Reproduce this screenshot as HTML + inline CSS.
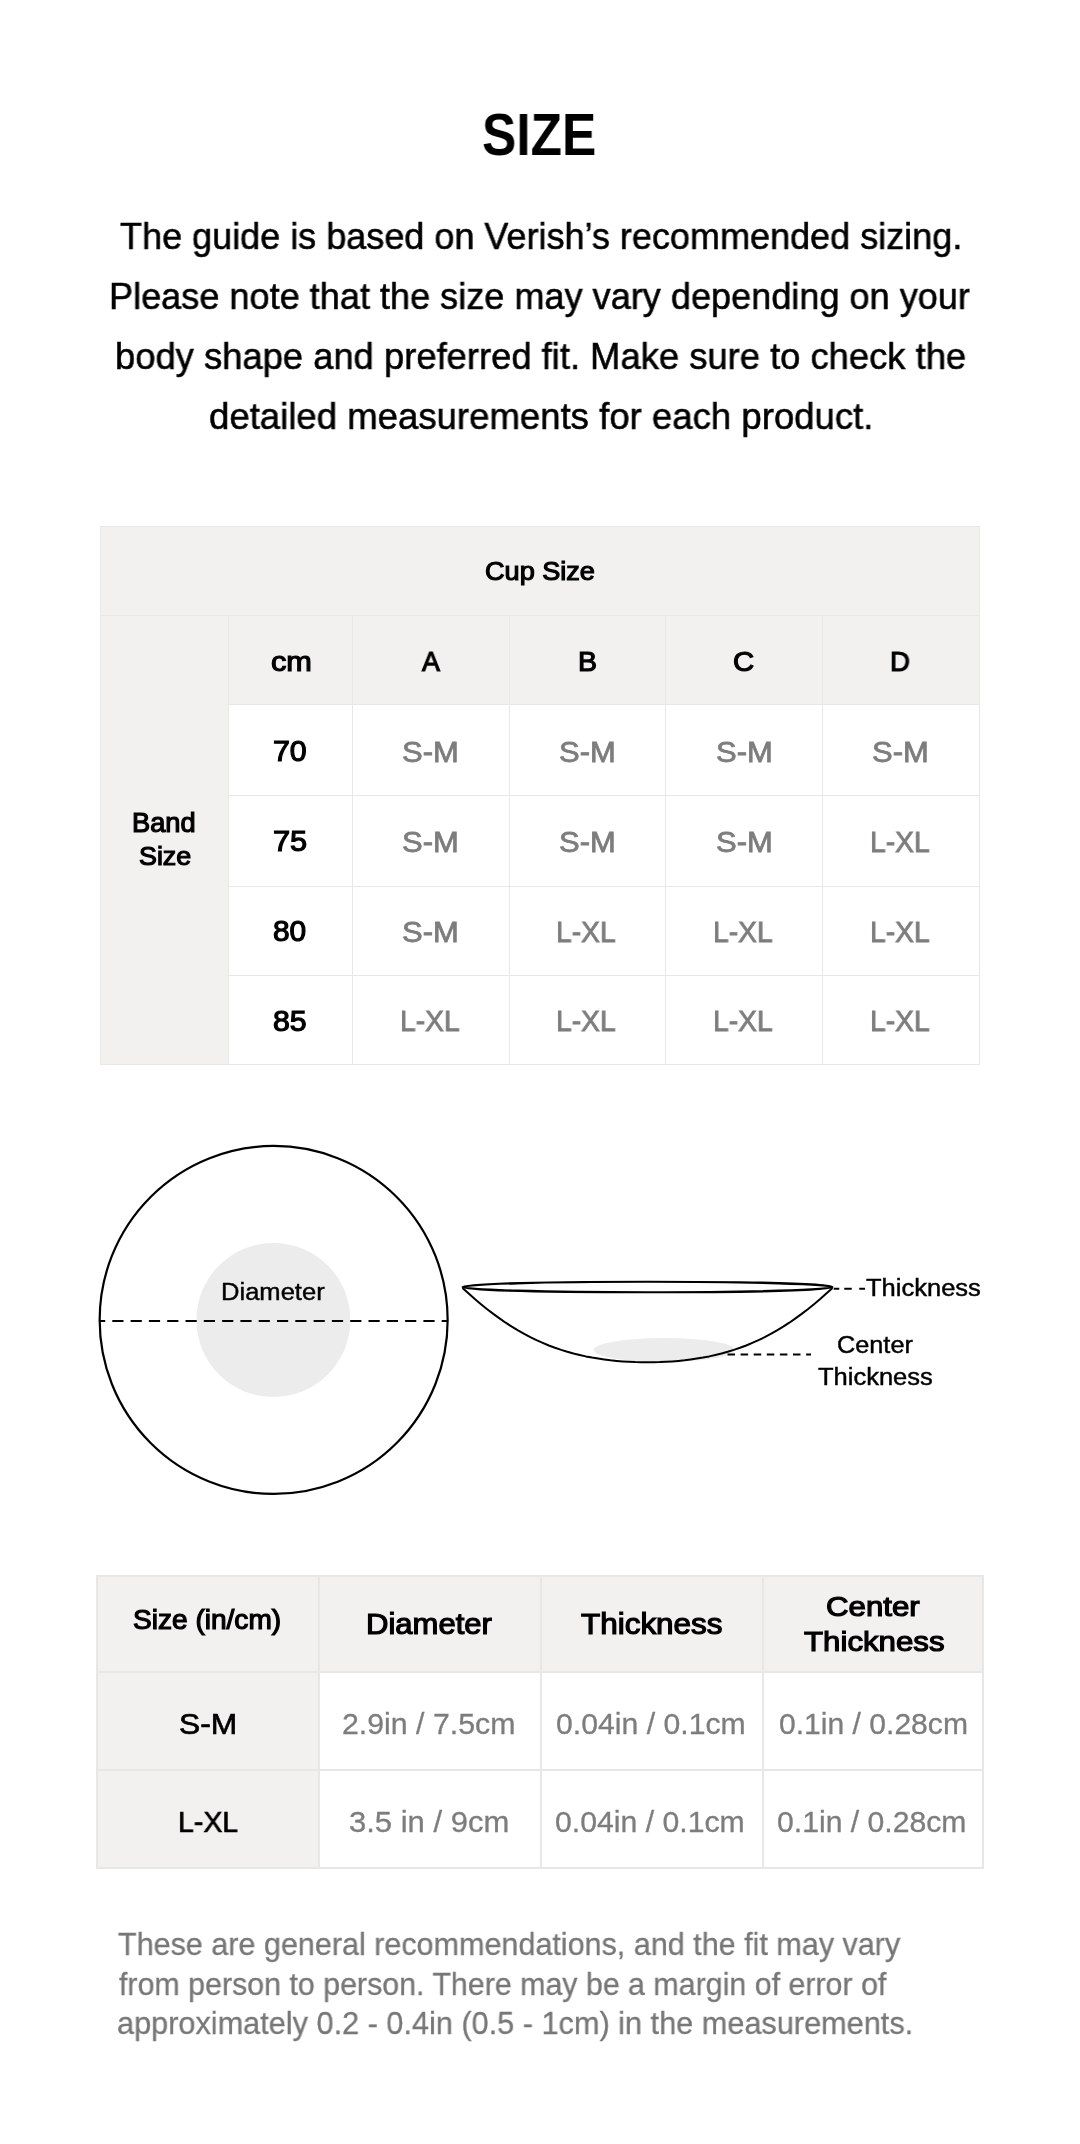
<!DOCTYPE html>
<html><head><meta charset="utf-8"><title>Size guide</title>
<style>
html,body{margin:0;padding:0;background:#fff;}
body{width:1080px;height:2144px;position:relative;overflow:hidden;font-family:"Liberation Sans",sans-serif;color:#000;}
.b{position:absolute;}
.t{position:absolute;white-space:pre;transform-origin:0 0;will-change:transform;}
</style></head><body>
<div class="b" style="left:100px;top:526px;width:880px;height:178px;background:#f2f1f0"></div>
<div class="b" style="left:100px;top:526px;width:128px;height:539px;background:#f2f1f0"></div>
<div class="b" style="left:100px;top:526px;width:880px;height:1px;background:#e8e8e7"></div>
<div class="b" style="left:100px;top:615px;width:880px;height:1px;background:#e8e8e7"></div>
<div class="b" style="left:228px;top:704px;width:752px;height:1px;background:#e8e8e7"></div>
<div class="b" style="left:228px;top:795px;width:752px;height:1px;background:#e8e8e7"></div>
<div class="b" style="left:228px;top:886px;width:752px;height:1px;background:#e8e8e7"></div>
<div class="b" style="left:228px;top:975px;width:752px;height:1px;background:#e8e8e7"></div>
<div class="b" style="left:100px;top:1064px;width:880px;height:1px;background:#e8e8e7"></div>
<div class="b" style="left:100px;top:526px;width:1px;height:539px;background:#e8e8e7"></div>
<div class="b" style="left:979px;top:526px;width:1px;height:539px;background:#e8e8e7"></div>
<div class="b" style="left:228px;top:615px;width:1px;height:450px;background:#e8e8e7"></div>
<div class="b" style="left:352px;top:615px;width:1px;height:450px;background:#e8e8e7"></div>
<div class="b" style="left:509px;top:615px;width:1px;height:450px;background:#e8e8e7"></div>
<div class="b" style="left:665px;top:615px;width:1px;height:450px;background:#e8e8e7"></div>
<div class="b" style="left:822px;top:615px;width:1px;height:450px;background:#e8e8e7"></div>
<div class="b" style="left:96px;top:1575px;width:888px;height:96px;background:#f2f1f0"></div>
<div class="b" style="left:96px;top:1575px;width:222px;height:294px;background:#f2f1f0"></div>
<div class="b" style="left:96px;top:1575px;width:888px;height:2px;background:#e7e7e6"></div>
<div class="b" style="left:96px;top:1671px;width:888px;height:2px;background:#e7e7e6"></div>
<div class="b" style="left:96px;top:1769px;width:888px;height:2px;background:#e7e7e6"></div>
<div class="b" style="left:96px;top:1867px;width:888px;height:2px;background:#e7e7e6"></div>
<div class="b" style="left:96px;top:1575px;width:2px;height:294px;background:#e7e7e6"></div>
<div class="b" style="left:318px;top:1575px;width:2px;height:294px;background:#e7e7e6"></div>
<div class="b" style="left:540px;top:1575px;width:2px;height:294px;background:#e7e7e6"></div>
<div class="b" style="left:762px;top:1575px;width:2px;height:294px;background:#e7e7e6"></div>
<div class="b" style="left:982px;top:1575px;width:2px;height:294px;background:#e7e7e6"></div>
<svg class="b" style="left:0;top:1120px" width="1080" height="400" viewBox="0 1120 1080 400">
<circle cx="273.4" cy="1320" r="77" fill="#ececec"/>
<circle cx="273.65" cy="1319.95" r="174" fill="none" stroke="#000" stroke-width="2.2"/>
<line x1="99.6" y1="1320.9" x2="447.7" y2="1320.9" stroke="#000" stroke-width="2" stroke-dasharray="11.2 7.1" stroke-dashoffset="5.6"/>
<ellipse cx="664.2" cy="1350" rx="70.5" ry="12" fill="#ececec"/>
<path d="M462.5,1287.9 L468.7,1293.5 L474.8,1299.0 L481.0,1304.2 L487.2,1309.2 L493.3,1313.9 L499.5,1318.4 L505.7,1322.7 L511.8,1326.7 L518.0,1330.4 L524.2,1333.9 L530.3,1337.2 L536.5,1340.2 L542.7,1342.9 L548.8,1345.5 L555.0,1347.8 L561.2,1349.9 L567.3,1351.8 L573.5,1353.5 L579.7,1355.0 L585.8,1356.4 L592.0,1357.6 L598.2,1358.6 L604.3,1359.5 L610.5,1360.3 L616.7,1360.9 L622.8,1361.4 L629.0,1361.8 L635.2,1362.1 L641.3,1362.2 L647.5,1362.3 L653.7,1362.2 L659.8,1362.1 L666.0,1361.8 L672.2,1361.4 L678.3,1360.9 L684.5,1360.3 L690.7,1359.5 L696.8,1358.6 L703.0,1357.6 L709.2,1356.4 L715.3,1355.0 L721.5,1353.5 L727.7,1351.8 L733.8,1349.9 L740.0,1347.8 L746.2,1345.5 L752.3,1342.9 L758.5,1340.2 L764.7,1337.2 L770.8,1333.9 L777.0,1330.4 L783.2,1326.7 L789.3,1322.7 L795.5,1318.4 L801.7,1313.9 L807.8,1309.2 L814.0,1304.2 L820.2,1299.0 L826.3,1293.5 L832.5,1287.9" fill="none" stroke="#000" stroke-width="2" stroke-linejoin="round"/>
<ellipse cx="647.5" cy="1287" rx="185" ry="5.25" fill="none" stroke="#000" stroke-width="2.2"/>
<line x1="833.75" y1="1288.75" x2="865" y2="1288.75" stroke="#000" stroke-width="2" stroke-dasharray="5.5 5 7.5 7.5 6 9"/>
<line x1="727.5" y1="1354.5" x2="811" y2="1354.5" stroke="#000" stroke-width="2" stroke-dasharray="7.5 5.6"/>
</svg>
<span class="t" style="left:482.20px;top:106.00px;font-size:58.75px;line-height:58.75px;transform:scaleX(0.8742);font-weight:700;">SIZE</span>
<span class="t" style="left:120.21px;top:219.00px;font-size:36.75px;line-height:36.75px;transform:scaleX(0.9801);-webkit-text-stroke:0.55px #000;">The guide is based on Verish’s recommended sizing.</span>
<span class="t" style="left:109.45px;top:279.00px;font-size:36.75px;line-height:36.75px;transform:scaleX(0.9823);-webkit-text-stroke:0.55px #000;">Please note that the size may vary depending on your</span>
<span class="t" style="left:115.00px;top:339.00px;font-size:36.75px;line-height:36.75px;transform:scaleX(0.9897);-webkit-text-stroke:0.55px #000;">body shape and preferred fit. Make sure to check the</span>
<span class="t" style="left:208.63px;top:399.00px;font-size:36.75px;line-height:36.75px;transform:scaleX(0.9946);-webkit-text-stroke:0.55px #000;">detailed measurements for each product.</span>
<span class="t" style="left:485.08px;top:558.25px;font-size:26.50px;line-height:26.50px;transform:scaleX(1.0222);-webkit-text-stroke:1.2px #000;">Cup Size</span>
<span class="t" style="left:270.54px;top:647.00px;font-size:28.50px;line-height:28.50px;transform:scaleX(1.0779);-webkit-text-stroke:1.2px #000;">cm</span>
<span class="t" style="left:421.98px;top:647.00px;font-size:28.50px;line-height:28.50px;transform:scaleX(0.9426);-webkit-text-stroke:1.2px #000;">A</span>
<span class="t" style="left:577.75px;top:647.00px;font-size:28.50px;line-height:28.50px;transform:scaleX(0.9977);-webkit-text-stroke:1.2px #000;">B</span>
<span class="t" style="left:733.47px;top:647.00px;font-size:28.50px;line-height:28.50px;transform:scaleX(1.0297);-webkit-text-stroke:1.2px #000;">C</span>
<span class="t" style="left:890.45px;top:647.00px;font-size:28.50px;line-height:28.50px;transform:scaleX(0.9673);-webkit-text-stroke:1.2px #000;">D</span>
<span class="t" style="left:132.47px;top:810.25px;font-size:26.75px;line-height:26.75px;transform:scaleX(1.0173);-webkit-text-stroke:1.2px #000;">Band</span>
<span class="t" style="left:138.56px;top:843.25px;font-size:26.50px;line-height:26.50px;transform:scaleX(1.0131);-webkit-text-stroke:1.2px #000;">Size</span>
<span class="t" style="left:272.93px;top:736.75px;font-size:28.75px;line-height:28.75px;transform:scaleX(1.0546);-webkit-text-stroke:1.2px #000;">70</span>
<span class="t" style="left:272.91px;top:826.75px;font-size:28.75px;line-height:28.75px;transform:scaleX(1.0707);-webkit-text-stroke:1.2px #000;">75</span>
<span class="t" style="left:273.42px;top:916.75px;font-size:28.75px;line-height:28.75px;transform:scaleX(1.0390);-webkit-text-stroke:1.2px #000;">80</span>
<span class="t" style="left:273.40px;top:1007.00px;font-size:28.75px;line-height:28.75px;transform:scaleX(1.0546);-webkit-text-stroke:1.2px #000;">85</span>
<span class="t" style="left:402.43px;top:737.50px;font-size:29.00px;line-height:29.00px;transform:scaleX(1.0677);color:#7d7d7d;-webkit-text-stroke:0.8px #7d7d7d;">S-M</span>
<span class="t" style="left:559.18px;top:737.50px;font-size:29.00px;line-height:29.00px;transform:scaleX(1.0677);color:#7d7d7d;-webkit-text-stroke:0.8px #7d7d7d;">S-M</span>
<span class="t" style="left:715.68px;top:737.50px;font-size:29.00px;line-height:29.00px;transform:scaleX(1.0677);color:#7d7d7d;-webkit-text-stroke:0.8px #7d7d7d;">S-M</span>
<span class="t" style="left:872.43px;top:737.50px;font-size:29.00px;line-height:29.00px;transform:scaleX(1.0677);color:#7d7d7d;-webkit-text-stroke:0.8px #7d7d7d;">S-M</span>
<span class="t" style="left:402.43px;top:827.50px;font-size:29.00px;line-height:29.00px;transform:scaleX(1.0677);color:#7d7d7d;-webkit-text-stroke:0.8px #7d7d7d;">S-M</span>
<span class="t" style="left:559.18px;top:827.50px;font-size:29.00px;line-height:29.00px;transform:scaleX(1.0677);color:#7d7d7d;-webkit-text-stroke:0.8px #7d7d7d;">S-M</span>
<span class="t" style="left:715.68px;top:827.50px;font-size:29.00px;line-height:29.00px;transform:scaleX(1.0677);color:#7d7d7d;-webkit-text-stroke:0.8px #7d7d7d;">S-M</span>
<span class="t" style="left:869.70px;top:827.50px;font-size:29.00px;line-height:29.00px;transform:scaleX(0.9731);color:#7d7d7d;-webkit-text-stroke:0.8px #7d7d7d;">L-XL</span>
<span class="t" style="left:402.43px;top:917.50px;font-size:29.00px;line-height:29.00px;transform:scaleX(1.0677);color:#7d7d7d;-webkit-text-stroke:0.8px #7d7d7d;">S-M</span>
<span class="t" style="left:556.45px;top:917.50px;font-size:29.00px;line-height:29.00px;transform:scaleX(0.9731);color:#7d7d7d;-webkit-text-stroke:0.8px #7d7d7d;">L-XL</span>
<span class="t" style="left:712.95px;top:917.50px;font-size:29.00px;line-height:29.00px;transform:scaleX(0.9731);color:#7d7d7d;-webkit-text-stroke:0.8px #7d7d7d;">L-XL</span>
<span class="t" style="left:869.70px;top:917.50px;font-size:29.00px;line-height:29.00px;transform:scaleX(0.9731);color:#7d7d7d;-webkit-text-stroke:0.8px #7d7d7d;">L-XL</span>
<span class="t" style="left:399.70px;top:1006.75px;font-size:29.00px;line-height:29.00px;transform:scaleX(0.9731);color:#7d7d7d;-webkit-text-stroke:0.8px #7d7d7d;">L-XL</span>
<span class="t" style="left:556.45px;top:1006.75px;font-size:29.00px;line-height:29.00px;transform:scaleX(0.9731);color:#7d7d7d;-webkit-text-stroke:0.8px #7d7d7d;">L-XL</span>
<span class="t" style="left:712.95px;top:1006.75px;font-size:29.00px;line-height:29.00px;transform:scaleX(0.9731);color:#7d7d7d;-webkit-text-stroke:0.8px #7d7d7d;">L-XL</span>
<span class="t" style="left:869.70px;top:1006.75px;font-size:29.00px;line-height:29.00px;transform:scaleX(0.9731);color:#7d7d7d;-webkit-text-stroke:0.8px #7d7d7d;">L-XL</span>
<span class="t" style="left:221.23px;top:1280.00px;font-size:24.75px;line-height:24.75px;transform:scaleX(1.0326);-webkit-text-stroke:0.45px #000;">Diameter</span>
<span class="t" style="left:865.83px;top:1276.00px;font-size:24.75px;line-height:24.75px;transform:scaleX(1.0308);-webkit-text-stroke:0.45px #000;">Thickness</span>
<span class="t" style="left:836.54px;top:1333.00px;font-size:24.75px;line-height:24.75px;transform:scaleX(1.0212);-webkit-text-stroke:0.45px #000;">Center</span>
<span class="t" style="left:817.83px;top:1365.00px;font-size:24.75px;line-height:24.75px;transform:scaleX(1.0299);-webkit-text-stroke:0.45px #000;">Thickness</span>
<span class="t" style="left:133.47px;top:1607.00px;font-size:27.00px;line-height:27.00px;transform:scaleX(1.0394);-webkit-text-stroke:1.2px #000;">Size (in/cm)</span>
<span class="t" style="left:365.68px;top:1610.25px;font-size:29.00px;line-height:29.00px;transform:scaleX(1.0700);-webkit-text-stroke:1.2px #000;">Diameter</span>
<span class="t" style="left:581.36px;top:1610.25px;font-size:29.00px;line-height:29.00px;transform:scaleX(1.0841);-webkit-text-stroke:1.2px #000;">Thickness</span>
<span class="t" style="left:826.44px;top:1592.00px;font-size:28.25px;line-height:28.25px;transform:scaleX(1.1053);-webkit-text-stroke:1.2px #000;">Center</span>
<span class="t" style="left:803.71px;top:1626.50px;font-size:28.50px;line-height:28.50px;transform:scaleX(1.0957);-webkit-text-stroke:1.2px #000;">Thickness</span>
<span class="t" style="left:179.36px;top:1708.75px;font-size:29.75px;line-height:29.75px;transform:scaleX(1.0669);-webkit-text-stroke:0.7px #000;">S-M</span>
<span class="t" style="left:177.62px;top:1807.00px;font-size:29.75px;line-height:29.75px;transform:scaleX(0.9586);-webkit-text-stroke:0.7px #000;">L-XL</span>
<span class="t" style="left:342.48px;top:1710.00px;font-size:29.25px;line-height:29.25px;transform:scaleX(1.0357);color:#7d7d7d;-webkit-text-stroke:0.3px #7d7d7d;">2.9in / 7.5cm</span>
<span class="t" style="left:348.68px;top:1808.25px;font-size:29.25px;line-height:29.25px;transform:scaleX(1.0601);color:#7d7d7d;-webkit-text-stroke:0.3px #7d7d7d;">3.5 in / 9cm</span>
<span class="t" style="left:556.21px;top:1710.00px;font-size:29.25px;line-height:29.25px;transform:scaleX(1.0326);color:#7d7d7d;-webkit-text-stroke:0.3px #7d7d7d;">0.04in / 0.1cm</span>
<span class="t" style="left:555.46px;top:1808.25px;font-size:29.25px;line-height:29.25px;transform:scaleX(1.0326);color:#7d7d7d;-webkit-text-stroke:0.3px #7d7d7d;">0.04in / 0.1cm</span>
<span class="t" style="left:778.71px;top:1710.00px;font-size:29.25px;line-height:29.25px;transform:scaleX(1.0284);color:#7d7d7d;-webkit-text-stroke:0.3px #7d7d7d;">0.1in / 0.28cm</span>
<span class="t" style="left:777.46px;top:1808.25px;font-size:29.25px;line-height:29.25px;transform:scaleX(1.0312);color:#7d7d7d;-webkit-text-stroke:0.3px #7d7d7d;">0.1in / 0.28cm</span>
<span class="t" style="left:118.42px;top:1929.00px;font-size:31.75px;line-height:31.75px;transform:scaleX(0.9614);color:#777777;-webkit-text-stroke:0.3px #777777;">These are general recommendations, and the fit may vary</span>
<span class="t" style="left:118.90px;top:1969.00px;font-size:31.75px;line-height:31.75px;transform:scaleX(0.9563);color:#777777;-webkit-text-stroke:0.3px #777777;">from person to person. There may be a margin of error of</span>
<span class="t" style="left:117.19px;top:2007.50px;font-size:31.75px;line-height:31.75px;transform:scaleX(0.9661);color:#777777;-webkit-text-stroke:0.3px #777777;">approximately 0.2 - 0.4in (0.5 - 1cm) in the measurements.</span>
</body></html>
